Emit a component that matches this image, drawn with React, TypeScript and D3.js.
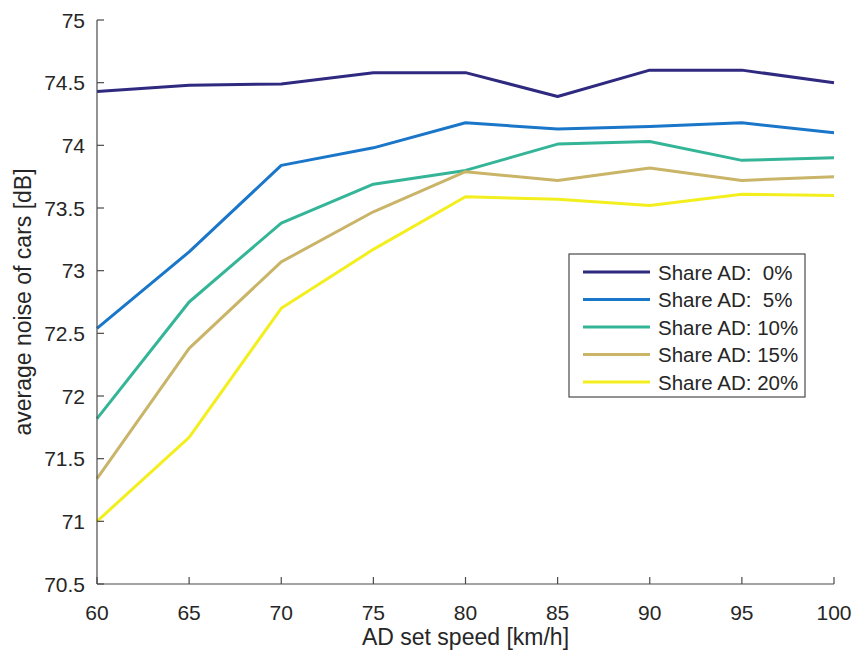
import React from "react";
import * as d3 from "d3";

const speeds = [60, 65, 70, 75, 80, 85, 90, 95, 100];
const seriesNames = ["Share AD:  0%", "Share AD:  5%", "Share AD: 10%", "Share AD: 15%", "Share AD: 20%"];
const share0 = [74.43, 74.48, 74.49, 74.58, 74.58, 74.39, 74.6, 74.6, 74.5];
const share5 = [72.54, 73.15, 73.84, 73.98, 74.18, 74.13, 74.15, 74.18, 74.1];
const share10 = [71.82, 72.75, 73.38, 73.69, 73.8, 74.01, 74.03, 73.88, 73.9];
const share15 = [71.34, 72.38, 73.07, 73.47, 73.79, 73.72, 73.82, 73.72, 73.75];
const share20 = [71.0, 71.67, 72.7, 73.17, 73.59, 73.57, 73.52, 73.61, 73.6];
const seriesColors = ["#2f2a80", "#1a76c9", "#34b597", "#c9b468", "#f3ef1f"];
const xTicks = [60, 65, 70, 75, 80, 85, 90, 95, 100];
const yTicks = [70.5, 71, 71.5, 72, 72.5, 73, 73.5, 74, 74.5, 75];

const W = 855;
const H = 655;
const M = { left: 97, right: 834, top: 20, bottom: 584 };
const FONT = "'Liberation Sans', Arial, Helvetica, sans-serif";
const TXT = "#262626";
const AX = "#4a4a4a";

export default function App() {
  const x = d3.scaleLinear().domain([60, 100]).range([M.left, M.right]);
  const y = d3.scaleLinear().domain([70.5, 75]).range([M.bottom, M.top]);
  const line = d3
    .line<number>()
    .x((_, i) => x(speeds[i]))
    .y((d) => y(d));
  const all = [share0, share5, share10, share15, share20];

  const lg = { x: 569, y: 254, w: 236, h: 143, row: 27.5 };

  return (
    <svg width={W} height={H} style={{ position: "absolute", left: 0, top: 0, background: "#fff" }}>
      <g fontFamily={FONT} fill={TXT}>
        {all.map((s, i) => (
          <path key={i} d={line(s) || ""} fill="none" stroke={seriesColors[i]} strokeWidth={3} strokeLinejoin="round" />
        ))}
        <line x1={M.left} x2={M.left} y1={M.top} y2={M.bottom} stroke={AX} strokeWidth={1.2} />
        <line x1={M.left} x2={M.right} y1={M.bottom} y2={M.bottom} stroke={AX} strokeWidth={1.2} />
        {yTicks.map((t) => (
          <g key={t}>
            <line x1={M.left} x2={M.left + 7} y1={y(t)} y2={y(t)} stroke={AX} strokeWidth={1.2} />
            <text x={M.left - 12} y={y(t)} textAnchor="end" dominantBaseline="central" fontSize={21}>
              {t}
            </text>
          </g>
        ))}
        {xTicks.map((t) => (
          <g key={t}>
            <line x1={x(t)} x2={x(t)} y1={M.bottom} y2={M.bottom - 7} stroke={AX} strokeWidth={1.2} />
            <text x={x(t)} y={M.bottom + 28} textAnchor="middle" dominantBaseline="central" fontSize={21}>
              {t}
            </text>
          </g>
        ))}
        <text x={(M.left + M.right) / 2} y={637} textAnchor="middle" dominantBaseline="central" fontSize={23}>
          AD set speed [km/h]
        </text>
        <text
          transform={`translate(23, ${(M.top + M.bottom) / 2}) rotate(-90)`}
          textAnchor="middle"
          dominantBaseline="central"
          fontSize={23}
        >
          average noise of cars [dB]
        </text>
        <rect x={lg.x} y={lg.y} width={lg.w} height={lg.h} fill="#fff" stroke={AX} strokeWidth={1.2} />
        {seriesNames.map((n, i) => {
          const yy = lg.y + 18 + i * lg.row;
          return (
            <g key={n}>
              <line x1={lg.x + 14} x2={lg.x + 81} y1={yy} y2={yy} stroke={seriesColors[i]} strokeWidth={3} />
              <text x={lg.x + 89} y={yy} dominantBaseline="central" fontSize={20.5} style={{ whiteSpace: "pre" }}>
                {n}
              </text>
            </g>
          );
        })}
      </g>
    </svg>
  );
}
